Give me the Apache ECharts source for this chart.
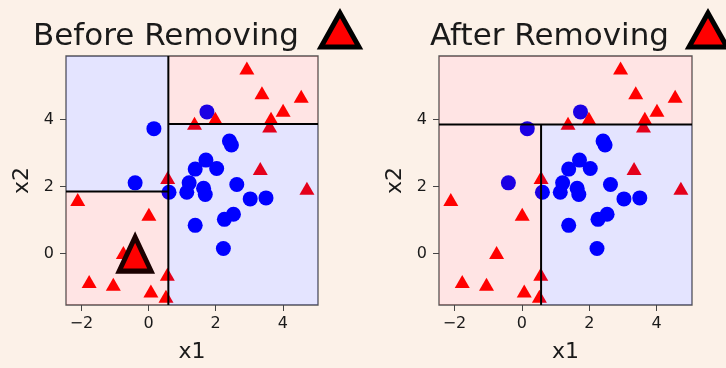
<!DOCTYPE html>
<html><head><meta charset="utf-8">
<script src="https://cdn.jsdelivr.net/npm/echarts@6/dist/echarts.min.js"></script>
<style>html,body{margin:0;padding:0;background:#fcf1e8;}#c{width:726px;height:368px;}</style>
</head><body><div id="c"></div>
<script>
// ---- data ----
const xRange = [-2.46, 5.05];
const yRange = [-1.54, 5.9];
const tickValues = [-2, 0, 2, 4];
const tickLabels = ['\u22122', '0', '2', '4'];
const yTickValues = [0, 2, 4];
const yTickLabels = ['0', '2', '4'];

const blueCircles = [
  [1.74,4.23],[0.16,3.73],[2.41,3.36],[2.47,3.24],[1.71,2.79],[1.39,2.52],[2.03,2.54],
  [-0.40,2.11],[1.21,2.11],[1.64,1.95],[1.14,1.83],[0.61,1.83],[1.69,1.76],[2.63,2.06],
  [3.03,1.63],[3.50,1.66],[2.53,1.17],[2.26,1.02],[1.39,0.84],[2.23,0.15]
];
const redTriangles = [
  [2.93,5.54],[3.38,4.80],[4.55,4.70],[4.01,4.28],[3.65,4.04],[3.61,3.81],[1.99,4.04],
  [1.37,3.89],[3.33,2.54],[4.72,1.95],[0.57,2.27],[-2.11,1.61],[0.01,1.17],[-0.75,0.03],
  [0.56,-0.62],[-1.77,-0.84],[-1.05,-0.92],[0.07,-1.12],[0.52,-1.28]
];
const removedPoint = [[-0.40, -0.02]];

// decision boundaries
const beforeVSplit = 0.59, beforeHSplitLeft = 1.85, beforeHSplitRight = 3.87;
const afterHSplit = 3.85, afterVSplit = 0.57;

// regions: [x0, x1, y0, y1, class]  class 0 = circle (blue), 1 = triangle (red)
const beforeRegions = [
  [xRange[0], beforeVSplit, beforeHSplitLeft, yRange[1], 0],
  [xRange[0], beforeVSplit, yRange[0], beforeHSplitLeft, 1],
  [beforeVSplit, xRange[1], yRange[0], beforeHSplitRight, 0],
  [beforeVSplit, xRange[1], beforeHSplitRight, yRange[1], 1]
];
const afterRegions = [
  [xRange[0], xRange[1], afterHSplit, yRange[1], 1],
  [xRange[0], afterVSplit, yRange[0], afterHSplit, 1],
  [afterVSplit, xRange[1], yRange[0], afterHSplit, 0]
];
// segments: [x0, y0, x1, y1]
const beforeSegments = [
  [beforeVSplit, yRange[0], beforeVSplit, yRange[1]],
  [xRange[0], beforeHSplitLeft, beforeVSplit, beforeHSplitLeft],
  [beforeVSplit, beforeHSplitRight, xRange[1], beforeHSplitRight]
];
const afterSegments = [
  [xRange[0], afterHSplit, xRange[1], afterHSplit],
  [afterVSplit, yRange[0], afterVSplit, afterHSplit]
];

// ---- chart ----
const FONT = 'DejaVu Sans';
const TXT = '#1a1a1a';
const regionColors = ['rgba(0,0,255,0.105)', 'rgba(255,0,0,0.105)'];

function xAxis(i) {
  return {
    type: 'value', gridIndex: i, min: xRange[0], max: xRange[1],
    name: 'x1', nameLocation: 'middle', nameGap: 36,
    nameTextStyle: {fontFamily: FONT, fontSize: 22, color: TXT},
    axisLine: {show: false, onZero: false}, splitLine: {show: false},
    axisTick: {show: true, length: 6, customValues: tickValues, lineStyle: {color: '#444', width: 1}},
    axisLabel: {customValues: tickValues, margin: 11, fontFamily: FONT, fontSize: 16, color: TXT,
      formatter: v => tickLabels[tickValues.indexOf(v)]}
  };
}
function yAxis(i) {
  return {
    type: 'value', gridIndex: i, min: yRange[0], max: yRange[1],
    name: 'x2', nameLocation: 'middle', nameGap: 33, nameRotate: 90,
    nameTextStyle: {fontFamily: FONT, fontSize: 22, color: TXT},
    axisLine: {show: false, onZero: false}, splitLine: {show: false},
    axisTick: {show: true, length: 6, customValues: yTickValues, lineStyle: {color: '#444', width: 1}},
    axisLabel: {customValues: yTickValues, margin: 12, fontFamily: FONT, fontSize: 16, color: TXT,
      formatter: v => yTickLabels[yTickValues.indexOf(v)]}
  };
}
function regionSeries(i, data) {
  return {
    type: 'custom', xAxisIndex: i, yAxisIndex: i, z: 5, silent: true, clip: true,
    data: data,
    renderItem: (params, api) => {
      const p0 = api.coord([api.value(0), api.value(3)]);
      const p1 = api.coord([api.value(1), api.value(2)]);
      return {type: 'rect', shape: {x: p0[0], y: p0[1], width: p1[0] - p0[0], height: p1[1] - p0[1]},
        style: {fill: regionColors[api.value(4)]}};
    }
  };
}
function segmentSeries(i, data) {
  return {
    type: 'custom', xAxisIndex: i, yAxisIndex: i, z: 6, silent: true,
    data: data,
    renderItem: (params, api) => {
      const a = api.coord([api.value(0), api.value(1)]);
      const b = api.coord([api.value(2), api.value(3)]);
      return {type: 'line', shape: {x1: a[0], y1: a[1], x2: b[0], y2: b[1]},
        style: {stroke: '#000', lineWidth: 2}};
    }
  };
}
function circles(i) {
  return {type: 'scatter', xAxisIndex: i, yAxisIndex: i, z: 2, data: blueCircles,
    symbol: 'circle', symbolSize: 15, itemStyle: {color: '#0000ff', opacity: 1}};
}
function triangles(i) {
  return {type: 'scatter', xAxisIndex: i, yAxisIndex: i, z: 2, data: redTriangles,
    symbol: 'triangle', symbolSize: [15, 13], itemStyle: {color: '#ff0000', opacity: 1}};
}

const chart = echarts.init(document.getElementById('c'), null, {renderer: 'canvas'});
chart.setOption({
  backgroundColor: '#fcf1e8',
  animation: false,
  title: [
    {text: 'Before Removing', left: 33, top: 21, padding: 0, textStyle: {fontFamily: FONT, fontSize: 31, fontWeight: 'normal', color: '#1a1a1a'}},
    {text: 'After Removing', left: 430, top: 21, padding: 0, textStyle: {fontFamily: FONT, fontSize: 31, fontWeight: 'normal', color: '#1a1a1a'}}
  ],
  graphic: [
    {type: 'polygon', shape: {points: [[340, 13], [321, 47], [359, 47]]}, z: 10,
      style: {fill: '#ff0000', stroke: '#000', lineWidth: 5, lineJoin: 'miter', miterLimit: 10}},
    {type: 'polygon', shape: {points: [[708, 13], [689, 47], [727, 47]]}, z: 10,
      style: {fill: '#ff0000', stroke: '#000', lineWidth: 5, lineJoin: 'miter', miterLimit: 10}}
  ],
  grid: [
    {left: 66, top: 56, width: 252, height: 251, show: true, backgroundColor: '#ffffff', borderColor: '#555', borderWidth: 1.3, z: 0},
    {left: 439, top: 56, width: 253, height: 251, show: true, backgroundColor: '#ffffff', borderColor: '#555', borderWidth: 1.3, z: 0}
  ],
  xAxis: [xAxis(0), xAxis(1)],
  yAxis: [yAxis(0), yAxis(1)],
  series: [
    circles(0), triangles(0),
    {type: 'scatter', xAxisIndex: 0, yAxisIndex: 0, z: 3, data: removedPoint,
      symbol: 'triangle', symbolSize: [32, 34],
      itemStyle: {color: '#ff0000', borderColor: '#000', borderWidth: 5, borderJoin: 'miter', borderMiterLimit: 10, opacity: 1}},
    regionSeries(0, beforeRegions), segmentSeries(0, beforeSegments),
    circles(1), triangles(1),
    regionSeries(1, afterRegions), segmentSeries(1, afterSegments)
  ]
});
</script>
</body></html>
